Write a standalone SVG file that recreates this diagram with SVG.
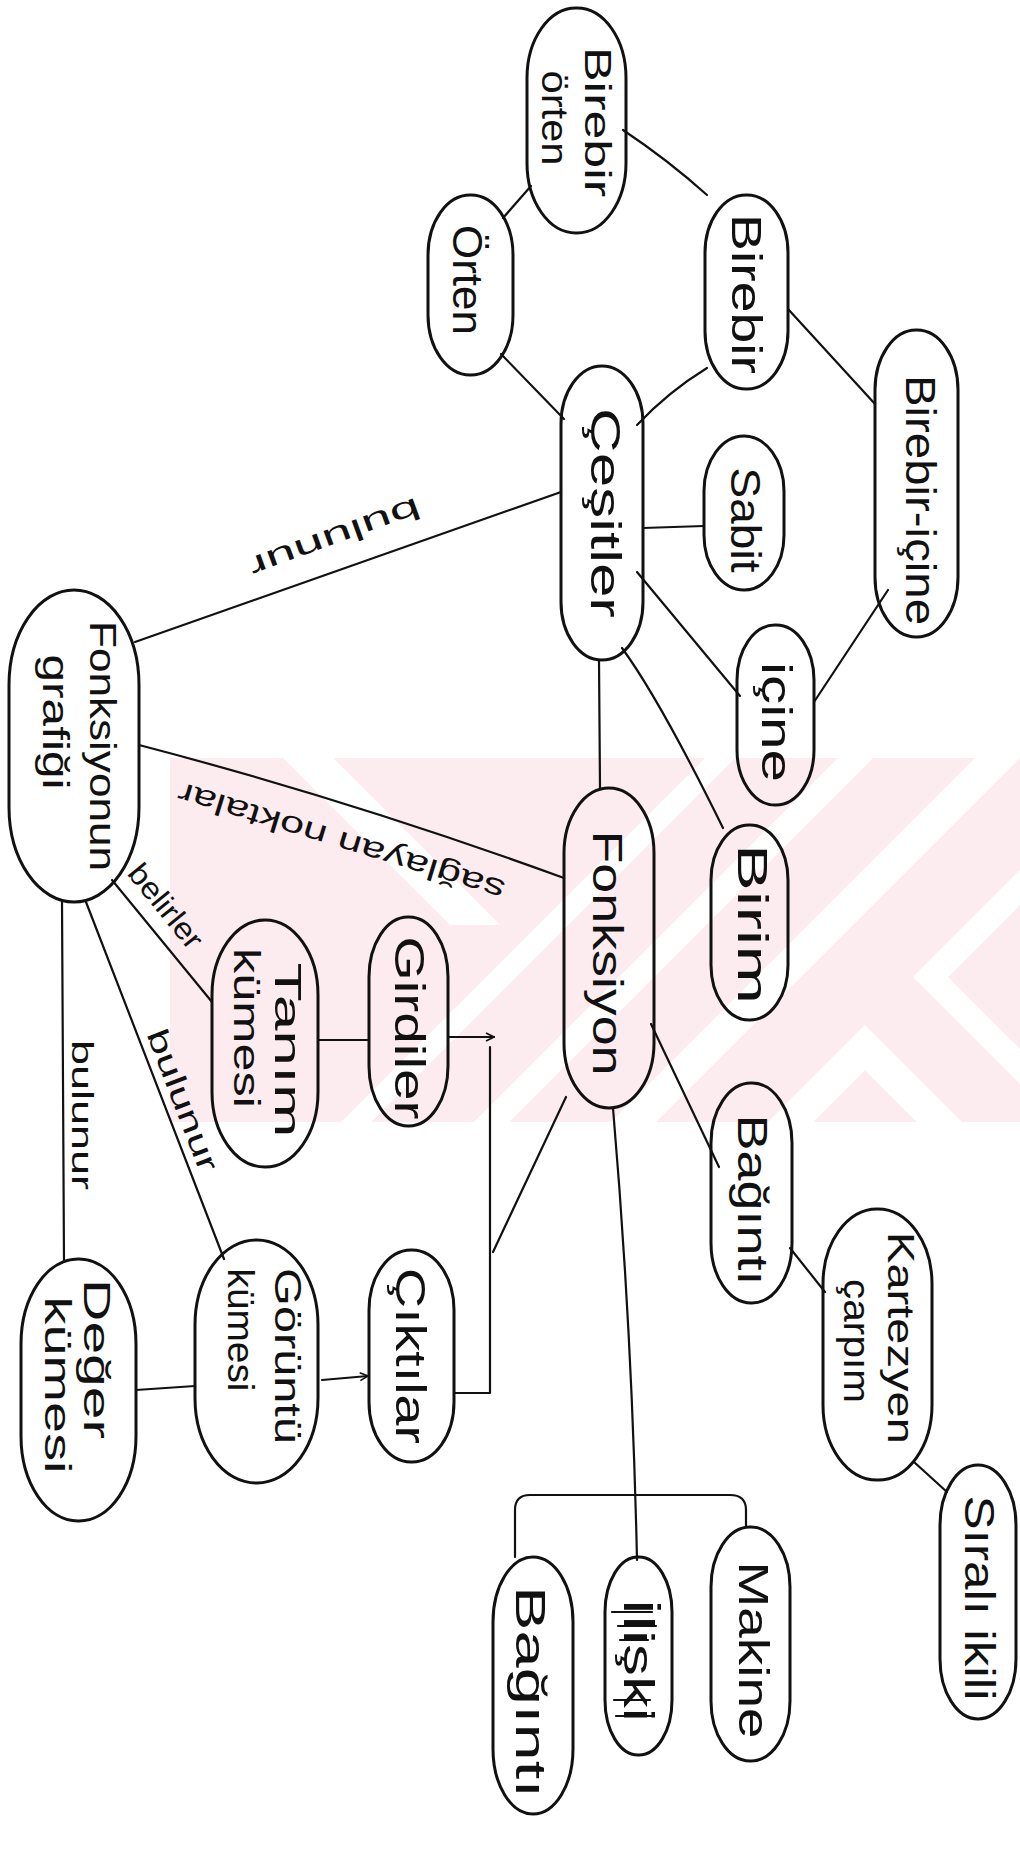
<svg xmlns="http://www.w3.org/2000/svg" width="1020" height="1849" viewBox="0 0 1020 1849">
  <style>
    .node { fill: none; stroke: #111; stroke-width: 3; }
    .edge { fill: none; stroke: #111; stroke-width: 2.2; stroke-linecap: round; stroke-linejoin: round; }
    .lbl { font-family: "Liberation Sans", "DejaVu Sans", sans-serif; fill: #111; text-anchor: middle; dominant-baseline: central; }
    .big { font-size: 42px; }
    .two { font-size: 37px; }
    .elbl { font-family: "Liberation Sans", "DejaVu Sans", sans-serif; fill: #111; text-anchor: middle; dominant-baseline: central; font-size: 30px; }
    .wm { fill: #fdecef; }
    .wmcut { fill: #ffffff; }
  </style>
  <defs>
    <marker id="tick" viewBox="0 0 10 10" refX="9" refY="5" markerWidth="10" markerHeight="10" markerUnits="userSpaceOnUse" orient="auto">
      <path d="M1 1 L9 5 L1 9" fill="none" stroke="#111" stroke-width="1.6"/>
    </marker>
    <clipPath id="wmclip"><rect x="170" y="758" width="850" height="364"/></clipPath>
  </defs>

  <rect width="1020" height="1849" fill="#ffffff"/>

  <!-- faint background emblem -->
  <g id="emblem" clip-path="url(#wmclip)">
    <rect class="wm" x="170" y="758" width="850" height="364"/>
    <polygon class="wmcut" points="283,758 333,758 500,925 450,925"/>
    <polygon class="wmcut" points="705,758 735,758 371,1122 341,1122"/>
    <polygon class="wmcut" points="838,758 873,758 509,1122 474,1122"/>
    <polygon class="wmcut" points="975,758 1020,758 656,1122 611,1122"/>
    <polygon class="wmcut" points="913,977 1020,870 1020,905 948,977 1020,1049 1020,1084"/>
    <polygon class="wmcut" points="865,1025 962,1122 917,1122 865,1070 813,1122 768,1122"/>
  </g>

  <!-- connectors -->
  <g id="connectors">
    <path class="edge" d="M531 186 L503 218"/>
    <path class="edge" d="M623 130 Q668 160 707 195"/>
    <path class="edge" d="M501 354 L564 419"/>
    <path class="edge" d="M707 368 Q668 392 637 425"/>
    <path class="edge" d="M788 309 L875 404"/>
    <path class="edge" d="M643 528 L704 526"/>
    <path class="edge" d="M637 572 L740 696"/>
    <path class="edge" d="M888 590 L814 702"/>
    <path class="edge" d="M135 642 L561 492"/>
    <path class="edge" d="M139 745 Q350 800 564 878"/>
    <path class="edge" d="M599 660 L600 788"/>
    <path class="edge" d="M622 648 Q660 700 723 828"/>
    <path class="edge" d="M651 1024 L719 1167"/>
    <path class="edge" d="M790 1248 L825 1292"/>
    <path class="edge" d="M914 1462 L947 1492"/>
    <path class="edge" d="M613 1108 Q632 1330 637 1560"/>
    <path class="edge" d="M515 1557 V1510 Q515 1495 530 1495 H730 Q746 1495 746 1510 V1527"/>
    <path class="edge" d="M566 1097 L493 1252"/>
    <path class="edge" d="M448 1037 H494" marker-end="url(#tick)"/>
    <path class="edge" d="M490 1047 V1393 H454"/>
    <path class="edge" d="M318 1040 H369"/>
    <path class="edge" d="M322 1380 L368 1376" marker-end="url(#tick)"/>
    <path class="edge" d="M136 1390 L195 1386"/>
    <path class="edge" d="M112 880 L212 1002"/>
    <path class="edge" d="M86 902 L224 1259"/>
    <path class="edge" d="M62 902 L64 1262"/>
    <!-- link phrases -->
    <text class="elbl" transform="translate(335 538) rotate(160)" textLength="180" lengthAdjust="spacingAndGlyphs">bulunur</text>
    <text class="elbl" transform="translate(341 842) rotate(197)" textLength="340" lengthAdjust="spacingAndGlyphs">sağlayan   noktalar</text>
    <text class="elbl" transform="translate(166 906) rotate(51)" textLength="100" lengthAdjust="spacingAndGlyphs">belirler</text>
    <text class="elbl" transform="translate(183 1100) rotate(69)" textLength="150" lengthAdjust="spacingAndGlyphs">bulunur</text>
    <text class="elbl" transform="translate(82 1115) rotate(90)" textLength="150" lengthAdjust="spacingAndGlyphs">bulunur</text>
  </g>

  <!-- nodes -->
  <g id="n-birebir-orten">
    <rect class="node" x="527" y="8" width="99" height="225" rx="49" ry="70"/>
    <text class="lbl two" transform="translate(597 122) rotate(90)" textLength="150" lengthAdjust="spacingAndGlyphs">Birebir</text>
    <text class="lbl two" transform="translate(554 118) rotate(90)" textLength="95" lengthAdjust="spacingAndGlyphs">örten</text>
  </g>
  <g id="n-orten">
    <rect class="node" x="428" y="195" width="85" height="180" rx="42" ry="60"/>
    <text class="lbl big" transform="translate(467 280) rotate(90)" textLength="110" lengthAdjust="spacingAndGlyphs">Örten</text>
  </g>
  <g id="n-birebir">
    <rect class="node" x="705" y="195" width="83" height="194" rx="41" ry="58"/>
    <text class="lbl big" transform="translate(746 294) rotate(90)" textLength="160" lengthAdjust="spacingAndGlyphs">Birebir</text>
  </g>
  <g id="n-birebir-icine">
    <rect class="node" x="875" y="330" width="83" height="307" rx="41" ry="60"/>
    <text class="lbl big" transform="translate(920 500) rotate(90)" textLength="250" lengthAdjust="spacingAndGlyphs">Birebir-içine</text>
  </g>
  <g id="n-cesitler">
    <rect class="node" x="561" y="366" width="82" height="294" rx="41" ry="58"/>
    <text class="lbl big" transform="translate(605 513) rotate(90)" textLength="210" lengthAdjust="spacingAndGlyphs">Çeşitler</text>
  </g>
  <g id="n-sabit">
    <rect class="node" x="704" y="436" width="80" height="154" rx="40" ry="55"/>
    <text class="lbl big" transform="translate(745 520) rotate(90)" textLength="105" lengthAdjust="spacingAndGlyphs">Sabit</text>
  </g>
  <g id="n-icine">
    <rect class="node" x="737" y="625" width="77" height="180" rx="38" ry="55"/>
    <text class="lbl big" transform="translate(776 722) rotate(90)" textLength="120" lengthAdjust="spacingAndGlyphs">içine</text>
  </g>
  <g id="n-grafik">
    <rect class="node" x="9" y="590" width="130" height="312" rx="65" ry="95"/>
    <text class="lbl two" transform="translate(102 746) rotate(90)" textLength="250" lengthAdjust="spacingAndGlyphs">Fonksiyonun</text>
    <text class="lbl two" transform="translate(55 722) rotate(90)" textLength="135" lengthAdjust="spacingAndGlyphs">grafiği</text>
  </g>
  <g id="n-birim">
    <rect class="node" x="711" y="825" width="77" height="195" rx="38" ry="55"/>
    <text class="lbl big" transform="translate(752 924) rotate(90)" textLength="160" lengthAdjust="spacingAndGlyphs">Birim</text>
  </g>
  <g id="n-fonksiyon">
    <rect class="node" x="564" y="788" width="90" height="320" rx="45" ry="65"/>
    <text class="lbl big" transform="translate(607 953) rotate(90)" textLength="245" lengthAdjust="spacingAndGlyphs">Fonksiyon</text>
  </g>
  <g id="n-tanim">
    <rect class="node" x="212" y="920" width="106" height="247" rx="53" ry="75"/>
    <text class="lbl two" transform="translate(287 1050) rotate(90)" textLength="175" lengthAdjust="spacingAndGlyphs">Tanım</text>
    <text class="lbl two" transform="translate(246 1028) rotate(90)" textLength="160" lengthAdjust="spacingAndGlyphs">kümesi</text>
  </g>
  <g id="n-girdiler">
    <rect class="node" x="369" y="917" width="79" height="209" rx="39" ry="60"/>
    <text class="lbl big" transform="translate(409 1028) rotate(90)" textLength="183" lengthAdjust="spacingAndGlyphs">Girdiler</text>
  </g>
  <g id="n-baginti-1">
    <rect class="node" x="711" y="1083" width="81" height="220" rx="40" ry="60"/>
    <text class="lbl big" transform="translate(752 1200) rotate(90)" textLength="171" lengthAdjust="spacingAndGlyphs">Bağıntı</text>
  </g>
  <g id="n-kartezyen">
    <rect class="node" x="823" y="1209" width="109" height="271" rx="54" ry="75"/>
    <text class="lbl two" transform="translate(900 1338) rotate(90)" textLength="212" lengthAdjust="spacingAndGlyphs">Kartezyen</text>
    <text class="lbl two" transform="translate(856 1341) rotate(90)" textLength="124" lengthAdjust="spacingAndGlyphs">çarpım</text>
  </g>
  <g id="n-sirali">
    <rect class="node" x="940" y="1465" width="76" height="254" rx="38" ry="60"/>
    <text class="lbl big" transform="translate(979 1598) rotate(90)" textLength="205" lengthAdjust="spacingAndGlyphs">Sıralı ikili</text>
  </g>
  <g id="n-goruntu">
    <rect class="node" x="195" y="1240" width="123" height="243" rx="61" ry="85"/>
    <text class="lbl two" transform="translate(287 1356) rotate(90)" textLength="176" lengthAdjust="spacingAndGlyphs">Görüntü</text>
    <text class="lbl two" transform="translate(240 1330) rotate(90)" textLength="123" lengthAdjust="spacingAndGlyphs">kümesi</text>
  </g>
  <g id="n-ciktilar">
    <rect class="node" x="369" y="1250" width="85" height="212" rx="42" ry="60"/>
    <text class="lbl big" transform="translate(410 1356) rotate(90)" textLength="176" lengthAdjust="spacingAndGlyphs">Çıktılar</text>
  </g>
  <g id="n-deger">
    <rect class="node" x="21" y="1259" width="115" height="262" rx="57" ry="85"/>
    <text class="lbl two" transform="translate(96 1359) rotate(90)" textLength="160" lengthAdjust="spacingAndGlyphs">Değer</text>
    <text class="lbl two" transform="translate(57 1385) rotate(90)" textLength="177" lengthAdjust="spacingAndGlyphs">kümesi</text>
  </g>
  <g id="n-makine">
    <rect class="node" x="711" y="1527" width="79" height="234" rx="39" ry="60"/>
    <text class="lbl big" transform="translate(753 1650) rotate(90)" textLength="177" lengthAdjust="spacingAndGlyphs">Makine</text>
  </g>
  <g id="n-iliski">
    <rect class="node" x="605" y="1557" width="67" height="198" rx="33" ry="55"/>
    <text class="lbl big" transform="translate(638 1660) rotate(90)" textLength="124" lengthAdjust="spacingAndGlyphs">İlişki</text>
    <path class="edge" d="M612 1612 H652 M618 1626 H656 M620 1640 H648 M614 1700 H650 M616 1716 H654"/>
  </g>
  <g id="n-baginti-2">
    <rect class="node" x="493" y="1557" width="80" height="257" rx="40" ry="65"/>
    <text class="lbl big" transform="translate(530 1692) rotate(90)" textLength="212" lengthAdjust="spacingAndGlyphs">Bağıntı</text>
  </g>
</svg>
